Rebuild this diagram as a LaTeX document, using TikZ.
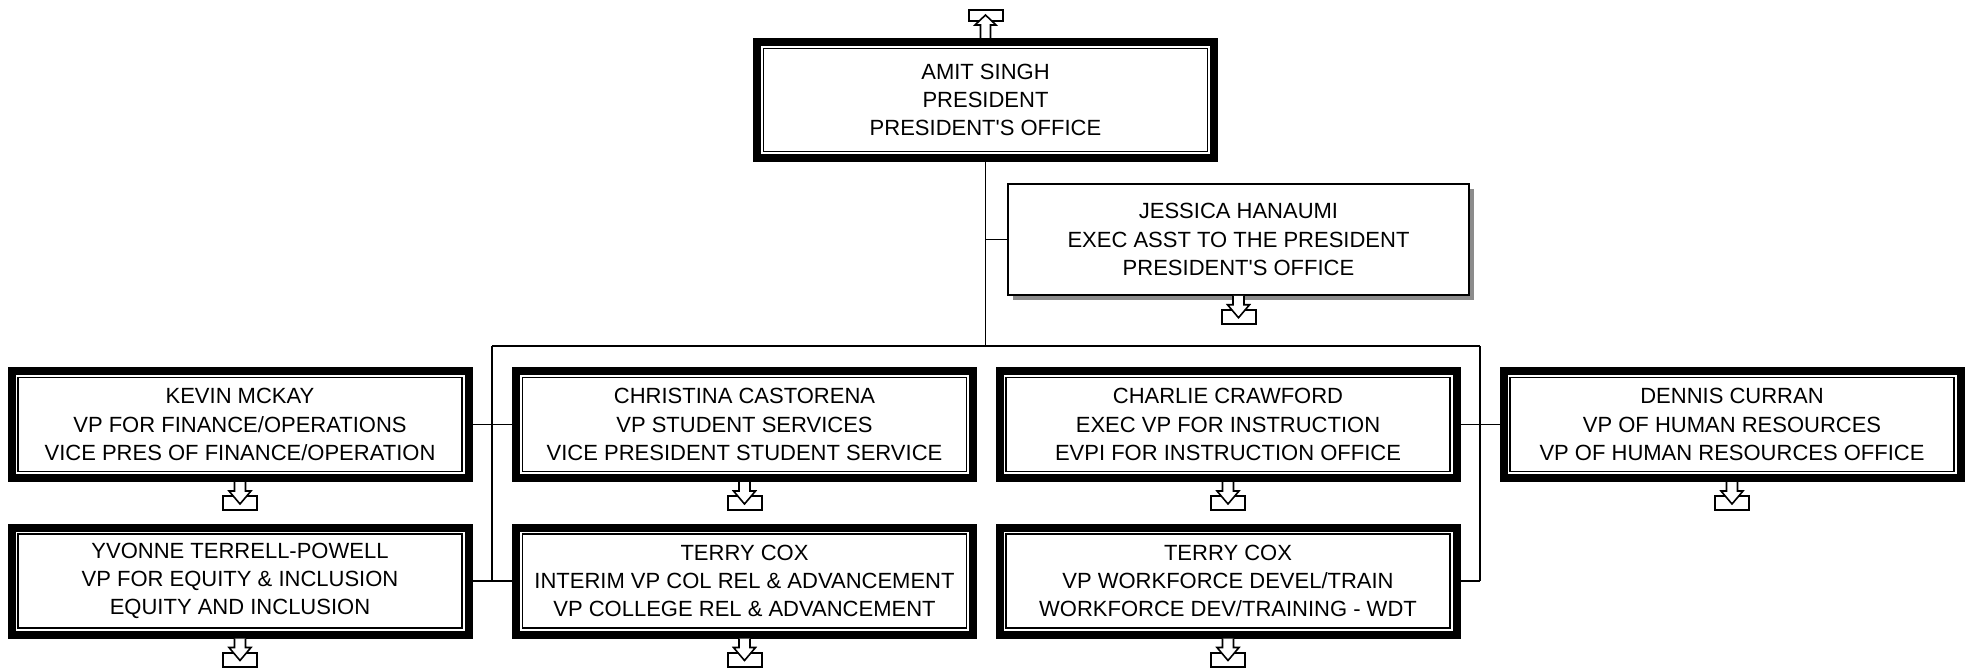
\documentclass[tikz,border=0pt]{standalone}
\usepackage{fontspec}
\setmainfont{Liberation Sans}
\usetikzlibrary{shadows}

\tikzset{
  vpbox/.style={draw, line width=8pt, fill=white, minimum width=457pt, minimum height=107pt, inner sep=0pt, align=center,
    path picture={
      \draw[line width=1.7pt] ([shift={(6.4pt,-6.4pt)}]path picture bounding box.north west) rectangle ([shift={(-6.4pt,6.4pt)}]path picture bounding box.south east);
    }},
  asstbox/.style={draw, line width=1.5pt, fill=white, minimum width=461pt, minimum height=111pt, inner sep=0pt, align=center,
    drop shadow={shadow xshift=5pt, shadow yshift=-5pt, fill=black!45, opacity=1}},
  link/.style={line width=1.3pt},
  iconbox/.style={draw, line width=2pt},
  iconarrow/.style={draw, fill=white, line width=1.6pt, line join=miter},
}

\begin{document}
\begin{tikzpicture}[x=1pt, y=-1pt, font=\fontsize{22pt}{28.3pt}\selectfont]
  \useasboundingbox (0,0) rectangle (1971,669);
  % president and assistant
  \node[vpbox, minimum height=116pt] (pres) at (985.5,100) {AMIT SINGH\\PRESIDENT\\PRESIDENT\textquotesingle S OFFICE};
  \node[asstbox] (asst) at (1238.5,239.5) {JESSICA HANAUMI\\EXEC ASST TO THE PRESIDENT\\PRESIDENT\textquotesingle S OFFICE};
  % vice presidents
  \node[vpbox] (fin) at (240,424.5) {KEVIN MCKAY\\VP FOR FINANCE/OPERATIONS\\VICE PRES OF FINANCE/OPERATION};
  \node[vpbox] (stu) at (744.5,424.5) {CHRISTINA CASTORENA\\VP STUDENT SERVICES\\VICE PRESIDENT STUDENT SERVICE};
  \node[vpbox] (inst) at (1228,424.5) {CHARLIE CRAWFORD\\EXEC VP FOR INSTRUCTION\\EVPI FOR INSTRUCTION OFFICE};
  \node[vpbox] (hr) at (1732,424.5) {DENNIS CURRAN\\VP OF HUMAN RESOURCES\\VP OF HUMAN RESOURCES OFFICE};
  \node[vpbox] (eqi) at (240,581) {YVONNE TERRELL-POWELL\\VP FOR EQUITY \& INCLUSION\\EQUITY AND INCLUSION};
  \node[vpbox] (adv) at (744.5,581) {TERRY COX\\INTERIM VP COL REL \& ADVANCEMENT\\VP COLLEGE REL \& ADVANCEMENT};
  \node[vpbox] (wdt) at (1228,581) {TERRY COX\\VP WORKFORCE DEVEL/TRAIN\\WORKFORCE DEV/TRAINING - WDT};
  % connectors
  \coordinate (busL) at (492,346);
  \coordinate (busR) at (1480,346);
  \draw[link] (pres.south) -- (pres.south |- busL);
  \draw[link] (pres.south |- asst.west) -- (asst.west);
  \draw[link] (busL) -- (busR);
  \draw[link] (busL) -- (busL |- eqi.east);
  \draw[link] (busR) -- (busR |- wdt.east);
  \draw[link] (fin.east) -- (stu.west);
  \draw[link] (eqi.east) -- (adv.west);
  \draw[link] (inst.east) -- (hr.west);
  \draw[link] (wdt.east) -- (wdt.east -| busR);
  % up icon over the president
  \draw[iconbox] ([shift={(-17pt,17pt)}]pres.north) rectangle ([shift={(17pt,28pt)}]pres.north);
  \draw[iconarrow] ([xshift=-5pt]pres.north) -- ++(0pt,13pt) -- ++(-5.5pt,0pt) -- ++(10.5pt,10pt) -- ++(10.5pt,-10pt) -- ++(-5.5pt,0pt) -- ++(0pt,-13pt);
  % down icons
  \foreach \n in {asst,fin,stu,inst,hr,eqi,adv,wdt}{
    \draw[iconbox] ([shift={(-17pt,-14pt)}]\n.south) rectangle ([shift={(17pt,-28pt)}]\n.south);
    \draw[iconarrow] ([xshift=-5.5pt]\n.south) -- ++(0pt,-9pt) -- ++(-5.5pt,0pt) -- ++(11pt,-13pt) -- ++(11pt,13pt) -- ++(-5.5pt,0pt) -- ++(0pt,9pt);
  }
\end{tikzpicture}
\end{document}
